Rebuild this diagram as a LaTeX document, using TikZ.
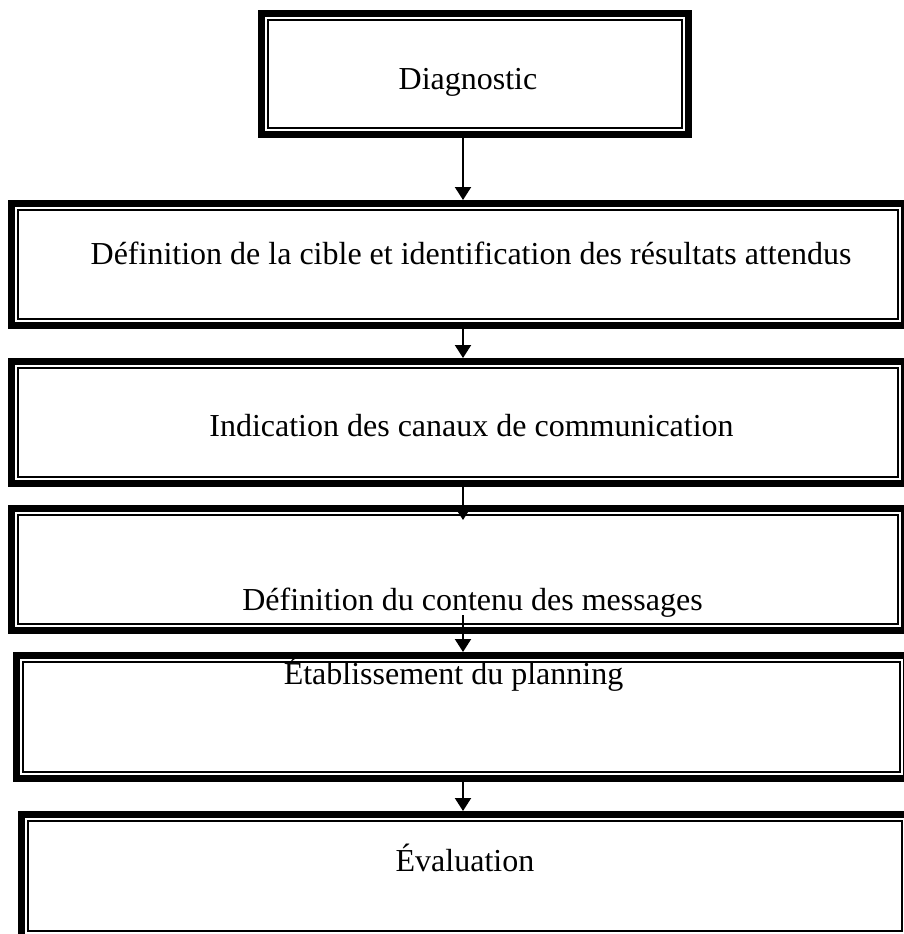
\documentclass[tikz,border=0pt]{standalone}
\usepackage{fontspec}
\setmainfont{Liberation Serif}
\usetikzlibrary{arrows.meta}

\tikzset{
  stage/.style={draw, line width=6.7pt, fill=white, inner sep=0pt,
    path picture={\draw[line width=1.6pt]
      ([shift={(6.9pt,6.9pt)}]path picture bounding box.south west) rectangle
      ([shift={(-6.9pt,-6.9pt)}]path picture bounding box.north east);}},
  txt/.style={anchor=base, inner sep=0pt, font=\fontsize{32}{38}\selectfont},
  flow/.style={line width=2pt, -{Triangle[width=16pt,length=13pt]}},
}

\begin{document}
\begin{tikzpicture}[x=1pt,y=-1pt]
  \useasboundingbox (0,0) rectangle (904,934);
  \clip (0,0) rectangle (904,934);

  % boxes
  \node[stage, minimum width=427.3pt, minimum height=121.3pt] (b1) at (475,74) {};
  \node[stage, minimum width=893.3pt, minimum height=122.3pt] (b2) at (458,264.5) {};
  \node[stage, minimum width=893.3pt, minimum height=122.3pt] (b3) at (458,422.5) {};
  \node[stage, minimum width=893.3pt, minimum height=122.3pt] (b4) at (458,569.5) {};
  \node[stage, minimum width=890.3pt, minimum height=123.3pt] (b5) at (461.5,717) {};
  \node[stage, minimum width=887.3pt, minimum height=123.3pt] (b6) at (465,876) {};

  % texts
  \node[txt] (t1) at (468,89) {Diagnostic};
  \node[txt] (t2) at (471,264) {Définition de la cible et identification des résultats attendus};
  \node[txt] (t3) at (471.5,436) {Indication des canaux de communication};
  \node[txt] (t4) at (472.5,610) {Définition du contenu des messages};
  \node[txt] (t5) at (453.5,684) {Établissement du planning};
  \node[txt] (t6) at (465,871) {Évaluation};

  % arrows
  \coordinate (ax) at (463,0);
  \coordinate (a3) at (463,520);
  \coordinate (a4) at (463,615);
  \draw[flow] (b1.south -| ax) -- (b2.north -| ax);
  \draw[flow] (b2.south -| ax) -- (b3.north -| ax);
  \draw[flow] (b3.south -| ax) -- (a3);
  \draw[flow] (a4) -- (b5.north -| ax);
  \draw[flow] (b5.south -| ax) -- (b6.north -| ax);
\end{tikzpicture}
\end{document}
